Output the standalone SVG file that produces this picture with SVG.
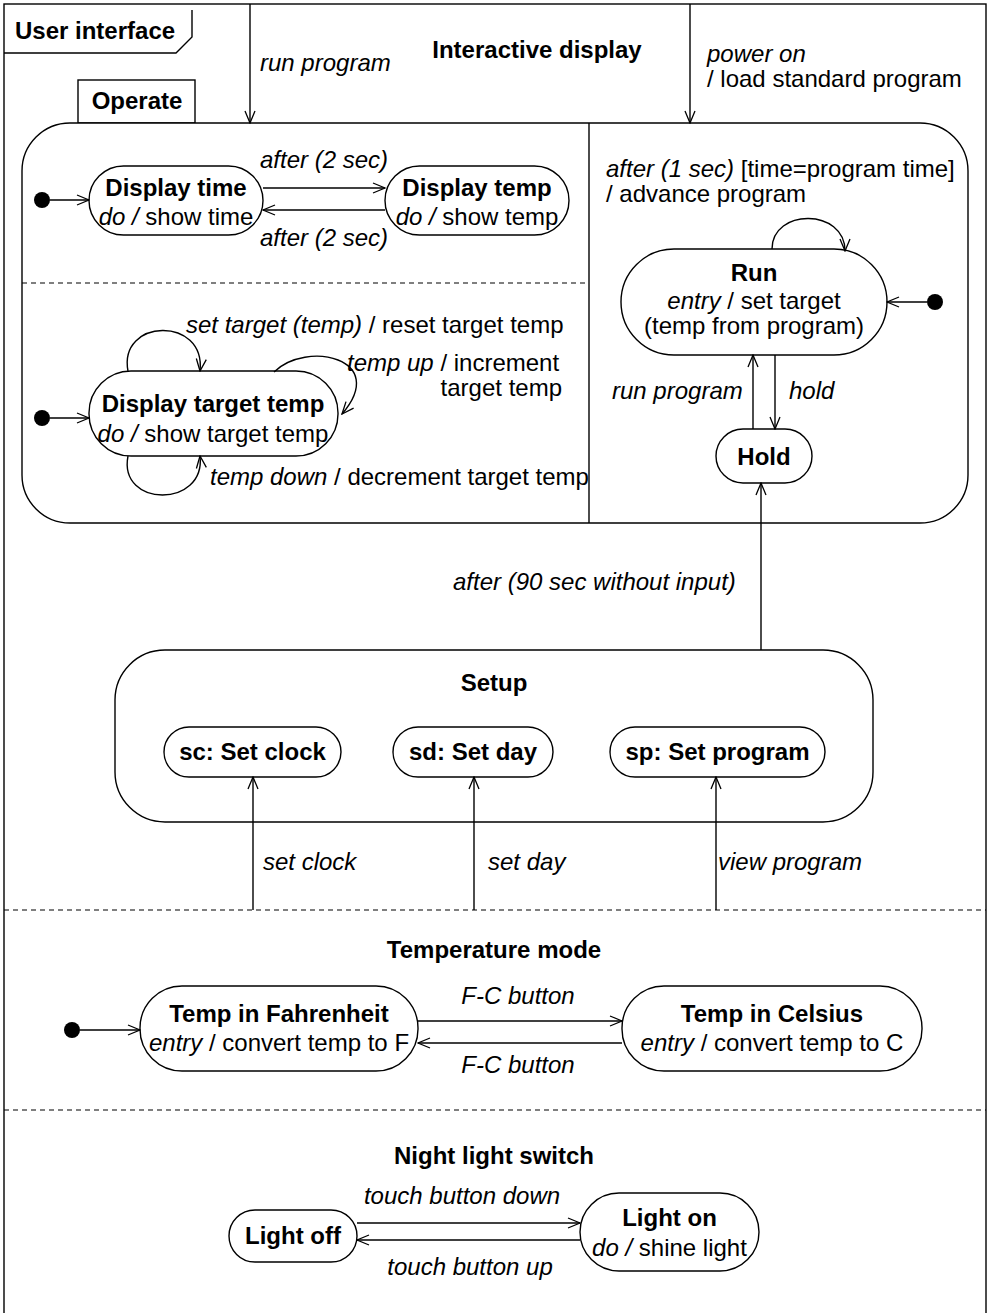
<svg xmlns="http://www.w3.org/2000/svg" width="988" height="1313" viewBox="0 0 988 1313">
  <defs>
    <marker id="open" markerUnits="userSpaceOnUse" markerWidth="14" markerHeight="12" refX="13" refY="6" orient="auto">
      <path d="M1,1 L13,6 L1,11" fill="none" stroke="#000" stroke-width="1.3"/>
    </marker>
    <style>
      text { font-family: "Liberation Sans", Arial, sans-serif; font-size: 24px; fill: #000; }
      .b { font-weight: bold; }
      .i { font-style: italic; }
      .c { text-anchor: middle; }
      .e { text-anchor: end; }
      .st { fill: #fff; stroke: #000; stroke-width: 1.4; }
      .ln { fill: none; stroke: #000; stroke-width: 1.4; }
      .dash { fill: none; stroke: #000; stroke-width: 1.2; stroke-dasharray: 5 4; }
      .tr { fill: none; stroke: #000; stroke-width: 1.4; marker-end: url(#open); }
      .dot { fill: #000; }
    </style>
  </defs>

  <rect width="988" height="1313" fill="#fff"/>

  <!-- outer frame -->
  <g id="frame">
    <rect x="4" y="4" width="982" height="1320" class="ln"/>
    <path d="M4,53 L176,53 L192,37 L192,10" class="ln"/>
    <text x="15" y="39" class="b">User interface</text>
    <text x="537" y="58" class="b c">Interactive display</text>
    <line x1="4" y1="910" x2="986" y2="910" class="dash"/>
    <line x1="4" y1="1110" x2="986" y2="1110" class="dash"/>
  </g>

  <!-- Operate composite state -->
  <g id="operate">
    <rect x="78" y="80" width="117" height="43" class="st"/>
    <text x="137" y="109" class="b c">Operate</text>
    <rect x="22" y="123" width="946" height="400" rx="48" ry="48" class="st"/>
    <line x1="589" y1="123" x2="589" y2="523" class="ln"/>
    <line x1="22" y1="283" x2="589" y2="283" class="dash"/>
  </g>

  <g id="display-time">
    <rect x="89" y="166" width="174" height="69" rx="34.5" class="st"/>
    <text x="176" y="196" class="b c">Display time</text>
    <text x="176" y="225" class="c"><tspan class="i">do /</tspan> show time</text>
  </g>
  <g id="display-temp">
    <rect x="385" y="166" width="184" height="69" rx="34.5" class="st"/>
    <text x="477" y="196" class="b c">Display temp</text>
    <text x="477" y="225" class="c"><tspan class="i">do /</tspan> show temp</text>
  </g>
  <g id="display-target-temp">
    <rect x="89" y="371" width="249" height="85" rx="42" class="st"/>
    <text x="213" y="412" class="b c">Display target temp</text>
    <text x="213" y="442" class="c"><tspan class="i">do /</tspan> show target temp</text>
  </g>
  <g id="run">
    <rect x="621" y="249" width="266" height="106" rx="53" class="st"/>
    <text x="754" y="281" class="b c">Run</text>
    <text x="754" y="309" class="c"><tspan class="i">entry</tspan> / set target</text>
    <text x="754" y="334" class="c">(temp from program)</text>
  </g>
  <g id="hold">
    <rect x="716" y="429" width="96" height="54" rx="27" class="st"/>
    <text x="764" y="465" class="b c">Hold</text>
  </g>

  <!-- Setup composite state -->
  <g id="setup">
    <rect x="115" y="650" width="758" height="172" rx="50" class="st"/>
    <text x="494" y="691" class="b c">Setup</text>
  </g>
  <g id="set-clock">
    <rect x="164" y="727" width="177" height="50" rx="25" class="st"/>
    <text x="252.5" y="760" class="b c">sc: Set clock</text>
  </g>
  <g id="set-day">
    <rect x="393" y="727" width="160" height="50" rx="25" class="st"/>
    <text x="473" y="760" class="b c">sd: Set day</text>
  </g>
  <g id="set-program">
    <rect x="610" y="727" width="215" height="50" rx="25" class="st"/>
    <text x="717.5" y="760" class="b c">sp: Set program</text>
  </g>

  <!-- Temperature mode region -->
  <text x="494" y="958" class="b c">Temperature mode</text>
  <g id="temp-f">
    <rect x="140" y="986" width="278" height="85" rx="42" class="st"/>
    <text x="279" y="1022" class="b c">Temp in Fahrenheit</text>
    <text x="279" y="1051" class="c"><tspan class="i">entry</tspan> / convert temp to F</text>
  </g>
  <g id="temp-c">
    <rect x="622" y="986" width="300" height="85" rx="42" class="st"/>
    <text x="772" y="1022" class="b c">Temp in Celsius</text>
    <text x="772" y="1051" class="c"><tspan class="i">entry</tspan> / convert temp to C</text>
  </g>

  <!-- Night light region -->
  <text x="494" y="1164" class="b c">Night light switch</text>
  <g id="light-off">
    <rect x="229" y="1210" width="128" height="52" rx="26" class="st"/>
    <text x="293" y="1244" class="b c">Light off</text>
  </g>
  <g id="light-on">
    <rect x="580" y="1193" width="179" height="78" rx="39" class="st"/>
    <text x="669.5" y="1226" class="b c">Light on</text>
    <text x="669.5" y="1256" class="c"><tspan class="i">do /</tspan> shine light</text>
  </g>

  <!-- initial pseudostates -->
  <g id="initials">
    <circle cx="42" cy="200" r="8" class="dot"/>
    <circle cx="42" cy="418" r="8" class="dot"/>
    <circle cx="935" cy="302" r="8" class="dot"/>
    <circle cx="72" cy="1030" r="8" class="dot"/>
  </g>

  <!-- transitions -->
  <g id="connectors">
    <line x1="250" y1="4" x2="250" y2="123" class="tr"/>
    <line x1="690" y1="4" x2="690" y2="123" class="tr"/>
    <line x1="50" y1="200" x2="89" y2="200" class="tr"/>
    <line x1="263" y1="188" x2="385" y2="188" class="tr"/>
    <line x1="385" y1="210" x2="263" y2="210" class="tr"/>
    <line x1="50" y1="418" x2="89" y2="418" class="tr"/>
    <path d="M128,371 C118,318 206,316 200,371" class="tr"/>
    <path d="M274,372 C306,340 390,358 342,414" class="tr"/>
    <path d="M128,456 C118,508 206,508 200,456" class="tr"/>
    <path d="M772,249 C772,208 845,208 845,251" class="tr"/>
    <line x1="927" y1="302" x2="887" y2="302" class="tr"/>
    <line x1="753" y1="429" x2="753" y2="355" class="tr"/>
    <line x1="775" y1="355" x2="775" y2="429" class="tr"/>
    <line x1="761" y1="650" x2="761" y2="483" class="tr"/>
    <line x1="253" y1="910" x2="253" y2="777" class="tr"/>
    <line x1="474" y1="910" x2="474" y2="777" class="tr"/>
    <line x1="716" y1="910" x2="716" y2="777" class="tr"/>
    <line x1="80" y1="1030" x2="140" y2="1030" class="tr"/>
    <line x1="418" y1="1021" x2="622" y2="1021" class="tr"/>
    <line x1="622" y1="1043" x2="418" y2="1043" class="tr"/>
    <line x1="357" y1="1223" x2="580" y2="1223" class="tr"/>
    <line x1="580" y1="1240" x2="357" y2="1240" class="tr"/>
  </g>

  <!-- transition labels -->
  <g id="labels">
    <text x="260" y="71" class="i">run program</text>
    <text x="707" y="62" class="i">power on</text>
    <text x="707" y="87">/ load standard program</text>
    <text x="324" y="168" class="i c">after (2 sec)</text>
    <text x="324" y="246" class="i c">after (2 sec)</text>
    <text x="186" y="333"><tspan class="i">set target (temp)</tspan> / reset target temp</text>
    <text x="347" y="371"><tspan class="i">temp up</tspan> / increment</text>
    <text x="562" y="396" class="e">target temp</text>
    <text x="210" y="485"><tspan class="i">temp down</tspan> / decrement target temp</text>
    <text x="606" y="177"><tspan class="i">after (1 sec)</tspan> [time=program time]</text>
    <text x="606" y="202">/ advance program</text>
    <text x="612" y="399" class="i">run program</text>
    <text x="789" y="399" class="i">hold</text>
    <text x="453" y="590" class="i">after (90 sec without input)</text>
    <text x="263" y="870" class="i">set clock</text>
    <text x="488" y="870" class="i">set day</text>
    <text x="718" y="870" class="i">view program</text>
    <text x="518" y="1004" class="i c">F-C button</text>
    <text x="518" y="1073" class="i c">F-C button</text>
    <text x="462" y="1204" class="i c">touch button down</text>
    <text x="470" y="1275" class="i c">touch button up</text>
  </g>
</svg>
